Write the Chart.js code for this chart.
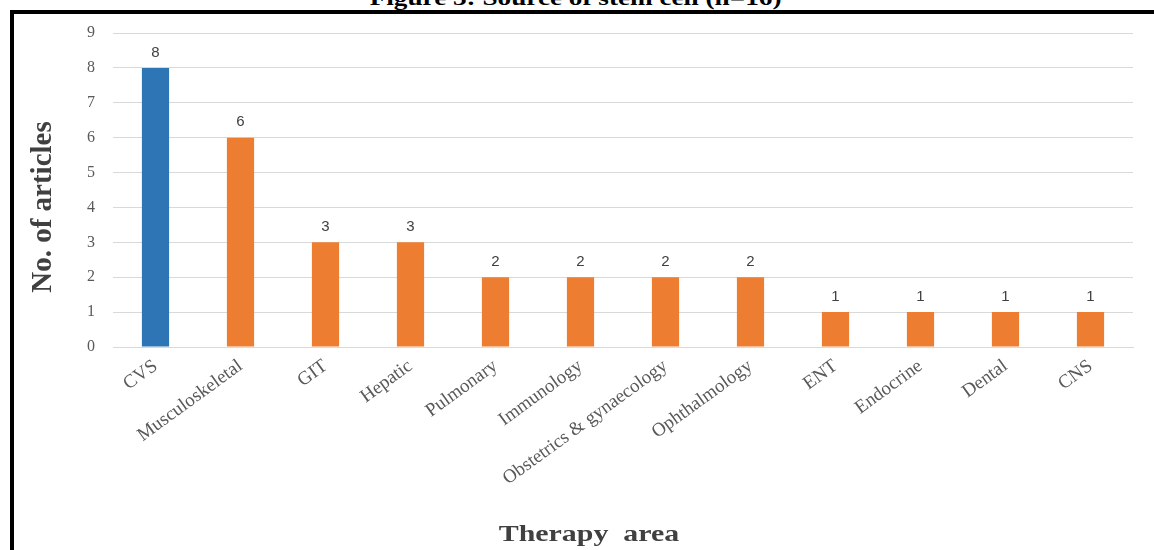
<!DOCTYPE html>
<html>
<head>
<meta charset="utf-8">
<script src="https://cdn.jsdelivr.net/npm/chart.js@4/dist/chart.umd.min.js"></script>
<style>
  html, body { margin: 0; padding: 0; background: #fff; overflow: hidden; }
  #wrap { position: relative; width: 1154px; height: 550px; }
  #frame {
    position: absolute; left: 10px; top: 10px; width: 1200px; height: 600px;
    border: 4px solid #000; box-sizing: border-box;
  }
  #figTitle {
    position: absolute; left: 0; width: 1154px; top: -13px; text-align: center;
    font: bold 20px "Liberation Serif", serif; color: #000;
    transform: scaleX(1.36); transform-origin: 581px 0;
  }
  #chart { position: absolute; left: 0; top: 0; }
</style>
</head>
<body>
<div id="wrap">
  <div id="figTitle">Figure 3: Source of stem cell (n=16)</div>
  <div id="frame"></div>
  <canvas id="chart" width="1154" height="550"></canvas>
</div>
<script>
const categories = ['CVS', 'Musculoskeletal', 'GIT', 'Hepatic', 'Pulmonary', 'Immunology',
  'Obstetrics & gynaecology', 'Ophthalmology', 'ENT', 'Endocrine', 'Dental', 'CNS'];
const articleCounts = [8, 6, 3, 3, 2, 2, 2, 2, 1, 1, 1, 1];
const yTicks = [0, 1, 2, 3, 4, 5, 6, 7, 8, 9];
const yTitle = 'No. of articles';
const xTitle = 'Therapy  area';

const BLUE = '#2E75B6';
const ORANGE = '#ED7D31';

// value labels above each bar + the two axis titles (the original is stretched sideways)
const extras = {
    id: 'extras',
    afterDraw(chart) {
        const ctx = chart.ctx;
        const meta = chart.getDatasetMeta(0);
        ctx.save();
        ctx.font = '15px "Liberation Sans", sans-serif';
        ctx.fillStyle = '#404040';
        ctx.textAlign = 'center';
        ctx.textBaseline = 'bottom';
        meta.data.forEach((bar, i) => {
            ctx.fillText(articleCounts[i], bar.x, bar.y - 8);
        });

        // y title
        ctx.save();
        ctx.translate(44, 207);
        ctx.rotate(-Math.PI / 2);
        ctx.font = 'bold 29px "Liberation Serif", serif';
        ctx.textBaseline = 'middle';
        ctx.fillStyle = '#404040';
        ctx.fillText(yTitle, 0, 0);
        ctx.restore();

        // x title
        ctx.save();
        ctx.translate(589, 535);
        ctx.scale(1.3, 1);
        ctx.font = 'bold 23px "Liberation Serif", serif';
        ctx.textBaseline = 'middle';
        ctx.fillStyle = '#404040';
        ctx.fillText(xTitle, 0, 0);
        ctx.restore();

        ctx.restore();
    }
};

const ctx = document.getElementById('chart').getContext('2d');
const therapyChart = new Chart(ctx, {
    type: 'bar',
    data: {
        labels: categories,
        datasets: [{
            data: articleCounts,
            backgroundColor: articleCounts.map((v, i) => i === 0 ? BLUE : ORANGE),
            barPercentage: 0.32,
            categoryPercentage: 1
        }]
    },
    options: {
        responsive: false,
        animation: false,
        layout: { padding: { top: 33, right: 21, left: 0, bottom: 0 } },
        plugins: {
            legend: { display: false },
            tooltip: { enabled: false }
        },
        scales: {
            y: {
                min: 0,
                max: 9,
                afterBuildTicks: axis => { axis.ticks = yTicks.map(v => ({ value: v })); },
                afterFit: axis => { axis.width = 113; },
                grid: { color: '#d9d9d9', drawTicks: false },
                border: { display: false },
                ticks: {
                    padding: 18,
                    color: '#595959',
                    font: { family: '"Liberation Serif", serif', size: 16 }
                }
            },
            x: {
                afterFit: axis => { axis.height = 203; },
                grid: { display: false, drawTicks: false },
                border: { color: '#d9d9d9' },
                ticks: {
                    minRotation: 36,
                    maxRotation: 36,
                    padding: 8,
                    color: '#595959',
                    font: { family: '"Liberation Serif", serif', size: 19 }
                }
            }
        }
    },
    plugins: [extras]
});
</script>
</body>
</html>
